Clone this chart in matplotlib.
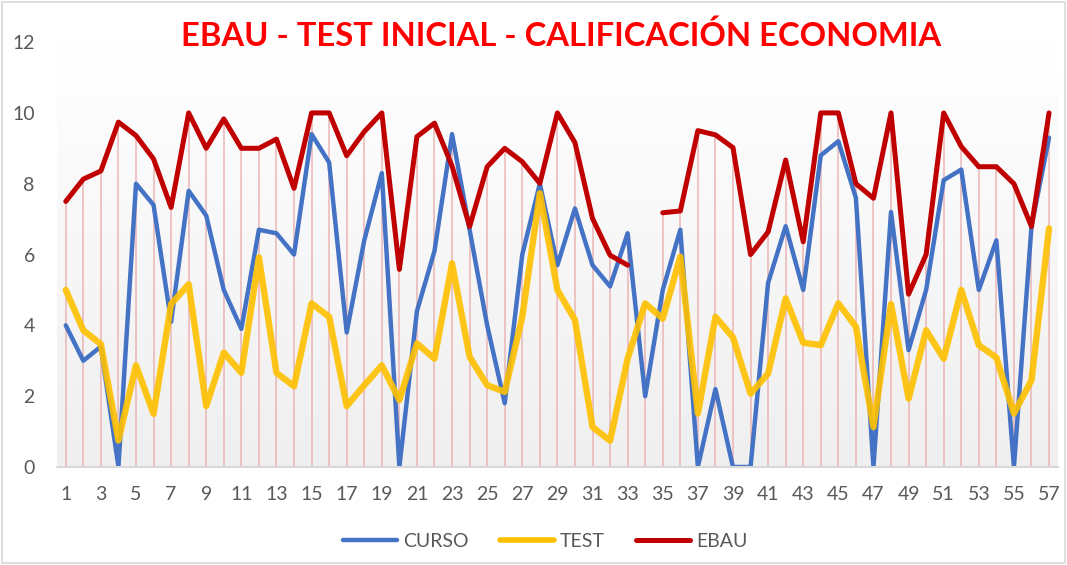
import numpy as np
import matplotlib
matplotlib.use("Agg")
import matplotlib.pyplot as plt
from matplotlib.patches import Rectangle
from matplotlib.lines import Line2D

plt.rcParams['font.family'] = ['Lato', 'DejaVu Sans']

alumnos = list(range(1, 58))

curso = [4.0, 3.0, 3.4, 0.0, 8.0, 7.4, 4.1, 7.8, 7.1, 5.0,
         3.9, 6.7, 6.6, 6.0, 9.4, 8.6, 3.8, 6.4, 8.3, 0.0,
         4.4, 6.1, 9.4, 6.7, 4.0, 1.8, 6.0, 8.0, 5.7, 7.3,
         5.7, 5.1, 6.6, 2.0, 5.0, 6.7, 0.0, 2.2, 0.0, 0.0,
         5.2, 6.8, 5.0, 8.8, 9.2, 7.6, 0.0, 7.2, 3.3, 5.0,
         8.1, 8.4, 5.0, 6.4, 0.0, 6.8, 9.3]

test = [5.0, 3.86, 3.47, 0.75, 2.87, 1.5, 4.6, 5.16, 1.72, 3.23,
        2.66, 5.92, 2.66, 2.28, 4.62, 4.24, 1.72, 2.31, 2.87, 1.89,
        3.49, 3.06, 5.75, 3.11, 2.31, 2.12, 4.24, 7.73, 5.0, 4.15,
        1.13, 0.74, 3.06, 4.62, 4.19, 5.94, 1.51, 4.24, 3.66, 2.07,
        2.64, 4.76, 3.51, 3.44, 4.62, 3.96, 1.13, 4.6, 1.93, 3.86,
        3.06, 5.0, 3.44, 3.09, 1.51, 2.45, 6.74]

ebau = [7.5, 8.13, 8.36, 9.74, 9.36, 8.7, 7.33, 10.0, 9.0, 9.83,
        9.0, 9.0, 9.26, 7.87, 10.0, 10.0, 8.79, 9.47, 10.0, 5.58,
        9.33, 9.71, 8.5, 6.79, 8.48, 9.0, 8.62, 8.01, 10.0, 9.16,
        7.02, 5.98, 5.7, np.nan, 7.18, 7.23, 9.5, 9.38, 9.02, 6.0,
        6.64, 8.67, 6.36, 10.0, 10.0, 8.0, 7.59, 10.0, 4.88, 6.0,
        10.0, 9.05, 8.48, 8.48, 8.0, 6.79, 10.0]

titulo = "EBAU - TEST INICIAL - CALIFICACIÓN ECONOMIA"

fig = plt.figure(figsize=(10.67, 5.65), dpi=100)
ax = fig.add_axes([0.0534, 0.1735, 0.938, 0.752])

# fondo degradado del area de trazado
grad = np.linspace(0, 1, 256).reshape(-1, 1)
ax.imshow(grad, extent=[0.5, 57.5, 0, 12], aspect='auto', origin='upper',
          cmap=matplotlib.colors.LinearSegmentedColormap.from_list('g', ['#ffffff', '#efefef']),
          zorder=0)

# lineas de unión (drop lines)
tope = np.nanmax(np.array([curso, test, ebau]), axis=0)
ax.vlines(alumnos, 0, tope, color='#e8a8a8', lw=1.4, alpha=0.65, zorder=1)

kw = dict(solid_joinstyle='round', solid_capstyle='round')
ax.plot(alumnos, curso, color='#4472C4', lw=3.2, zorder=2, **kw)
ax.plot(alumnos, test, color='#FFC000', lw=4.6, alpha=0.9, zorder=3, **kw)
ax.plot(alumnos, ebau, color='#C00000', lw=3.6, zorder=4, **kw)

ax.set_xlim(0.5, 57.5)
ax.set_ylim(0, 12)
ax.set_xticks(alumnos[::2])
ax.set_yticks(range(0, 13, 2))
ax.tick_params(length=0, labelsize=14, labelcolor='#595959')
ax.tick_params(axis='x', pad=14)
ax.tick_params(axis='y', pad=16)
for s in ['top', 'right', 'left']:
    ax.spines[s].set_visible(False)
ax.spines['bottom'].set_color('#d9d9d9')
ax.spines['bottom'].set_linewidth(1.5)

fig.text(0.526, 0.937, titulo, ha='center', va='center', color='#FF0000',
         fontsize=23.6, fontweight='bold')

handles = [Line2D([], [], color='#4472C4', lw=3.2, solid_capstyle='round'),
           Line2D([], [], color='#FFC000', lw=4.0, solid_capstyle='round'),
           Line2D([], [], color='#C00000', lw=3.6, solid_capstyle='round')]
fig.legend(handles, ['CURSO', 'TEST', 'EBAU'], loc='center', ncol=3,
           bbox_to_anchor=(0.511, 0.042), frameon=False, fontsize=14,
           labelcolor='#595959', handlelength=2.8, handletextpad=0.3,
           columnspacing=1.6)

fig.patches.append(Rectangle((0.002, 0.003), 0.996, 0.994, transform=fig.transFigure,
                             fill=False, edgecolor='#d9d9d9', lw=1.2))

fig.savefig('out.png', dpi=100)
